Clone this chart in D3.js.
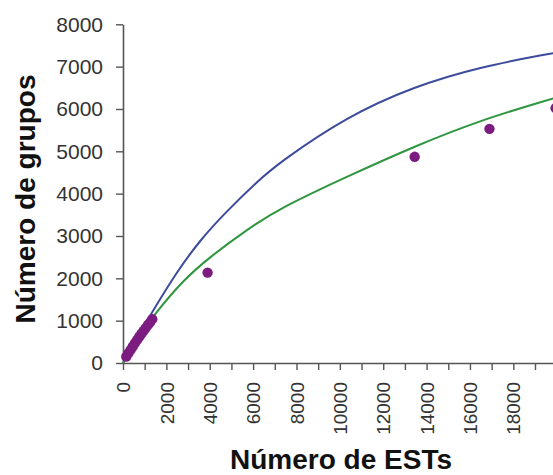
<!DOCTYPE html>
<html>
<head>
<meta charset="utf-8">
<script src="https://cdn.jsdelivr.net/npm/d3@7"></script>
<style>
  body { margin: 0; background: #fff; }
  svg { display: block; }
</style>
</head>
<body>
<svg id="chart" width="553" height="475"></svg>
<script>
// observed points (ESTs, groups)
var obsX = [150, 250, 350, 450, 550, 650, 750, 850, 950, 1050, 1150, 1250, 1350, 3900, 13450, 16900, 19950];
var obsY = [150, 230, 310, 390, 470, 545, 620, 690, 760, 830, 900, 960, 1035, 2135, 4870, 5530, 6020];

// upper curve (blue)
var blueX = [0, 700, 1400, 2480, 3550, 4700, 6170, 7250, 10320, 13400, 16490, 19850];
var blueY = [0, 640, 1250, 2150, 2900, 3540, 4280, 4750, 5820, 6530, 7000, 7320];

// lower curve (green)
var greenX = [0, 700, 1480, 2780, 4020, 5710, 7250, 10320, 13400, 16490, 19850];
var greenY = [0, 620, 1170, 1960, 2510, 3150, 3660, 4400, 5110, 5740, 6250];

var yTicks = [0, 1000, 2000, 3000, 4000, 5000, 6000, 7000, 8000];
var xTicks = d3.range(0, 20000, 1000);

var svg = d3.select("#chart");

var x = d3.scaleLinear().domain([0, 20000]).range([123, 556.7]);
var y = d3.scaleLinear().domain([0, 8000]).range([363, 24.3]);

// y axis
var yAxis = svg.append("g")
  .attr("transform", "translate(123,0)")
  .call(d3.axisLeft(y).tickValues(yTicks).tickSize(7).tickPadding(13).tickSizeOuter(0)
    .tickFormat(d3.format("d")));
yAxis.select(".domain").attr("stroke", "#555").attr("stroke-width", 1.6);
yAxis.selectAll(".tick line").attr("stroke", "#555").attr("stroke-width", 1.4);
yAxis.selectAll(".tick text")
  .attr("font-family", "Liberation Sans, Arial, sans-serif")
  .attr("font-size", "21px")
  .attr("fill", "#333");

// x axis
var xAxis = svg.append("g")
  .attr("transform", "translate(0,363)")
  .call(d3.axisBottom(x).tickValues(xTicks).tickSize(7).tickSizeOuter(0)
    .tickFormat(function(d) { return d % 2000 === 0 ? d : ""; }));
xAxis.select(".domain").attr("stroke", "#555").attr("stroke-width", 1.6);
xAxis.selectAll(".tick line").attr("stroke", "#555").attr("stroke-width", 1.4);
xAxis.selectAll(".tick text")
  .attr("font-family", "Liberation Sans, Arial, sans-serif")
  .attr("font-size", "19px")
  .attr("fill", "#333")
  .attr("text-anchor", "end")
  .attr("transform", "rotate(-90)")
  .attr("x", -19)
  .attr("y", 0)
  .attr("dy", "0.35em");

// curves
var line = d3.line()
  .x(function(d) { return x(d[0]); })
  .y(function(d) { return y(d[1]); })
  .curve(d3.curveBasis);

svg.append("path")
  .datum(d3.zip(blueX, blueY))
  .attr("d", line)
  .attr("fill", "none")
  .attr("stroke", "#3d4b9c")
  .attr("stroke-width", 2);

svg.append("path")
  .datum(d3.zip(greenX, greenY))
  .attr("d", line)
  .attr("fill", "none")
  .attr("stroke", "#2f963f")
  .attr("stroke-width", 2);

// dots
svg.append("g")
  .selectAll("circle")
  .data(d3.zip(obsX, obsY))
  .enter().append("circle")
  .attr("cx", function(d) { return x(d[0]); })
  .attr("cy", function(d) { return y(d[1]); })
  .attr("r", 5.2)
  .attr("fill", "#7d1c80");

// titles
svg.append("text")
  .attr("x", 341)
  .attr("y", 469)
  .text("Número de ESTs")
  .attr("font-size", "28px")
  .attr("font-weight", "bold")
  .attr("text-anchor", "middle")
  .attr("font-family", "Liberation Sans, Arial, sans-serif")
  .attr("fill", "#111");

svg.append("text")
  .attr("transform", "translate(35,199) rotate(-90)")
  .text("Número de grupos")
  .attr("font-size", "28px")
  .attr("font-weight", "bold")
  .attr("text-anchor", "middle")
  .attr("font-family", "Liberation Sans, Arial, sans-serif")
  .attr("fill", "#111");
</script>
</body>
</html>
